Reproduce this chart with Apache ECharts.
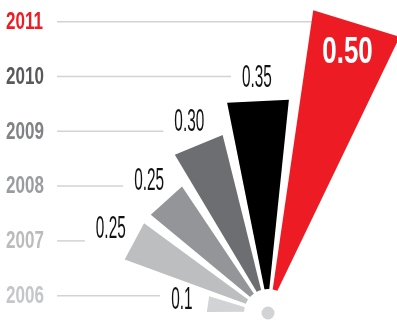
<!DOCTYPE html>
<html><head><meta charset="utf-8">
<script src="https://cdn.jsdelivr.net/npm/echarts@6/dist/echarts.min.js"></script>
<style>html,body{margin:0;padding:0;background:#fff}#c{width:397px;height:320px}</style>
</head><body><div id="c"></div>
<script>
// ---- data ----
const years = ['2006', '2007', '2008', '2009', '2010', '2011'];
const values = [0.1, 0.25, 0.25, 0.30, 0.35, 0.50];
const valueLabels = ['0.1', '0.25', '0.25', '0.30', '0.35', '0.50'];
const highlightYear = '2011';

// ---- styles ----
const wedgeColors = ['#d1d3d4', '#bcbec0', '#939598', '#6d6e71', '#000000', '#ed1c24'];
const yearColors = ['#c4c6c8', '#b9bbbd', '#9a9c9f', '#808285', '#58595b', '#ed1c24'];
const FONT_FAMILY = '"Liberation Sans", Arial, sans-serif';
const VAL_FONT = 'normal 32px ' + FONT_FAMILY;
const IN_FONT = 'bold 37px ' + FONT_FAMILY;
const YEAR_FONT = 'bold 23px ' + FONT_FAMILY;
const VAL_SCALE = 0.48, IN_SCALE = 0.70, YEAR_SCALE = 0.74;

const A0 = -81.5, STEP = 19.7;        // angular layout of the fan
const R_MAX = 0.5, R_PX = 306;         // radius axis max and its pixel radius
const PX = R_PX / R_MAX;
function centerAngle(i) { return A0 + STEP * i; }
function halfAngle(i) { return 7.5 + 0.2 * i; }

const measureCtx = document.createElement('canvas').getContext('2d');
function textWidth(t, font) { measureCtx.font = font; return measureCtx.measureText(t).width; }

function labelInfo(i) {
  const th = centerAngle(i);
  const inside = years[i] === highlightYear;
  const rPx = inside ? values[i] * PX - 34 : values[i] * PX + 21 + 5 * Math.abs(Math.sin(th * Math.PI / 180));
  return { r: rPx / PX, angle: th, inside: inside };
}

const chart = echarts.init(document.getElementById('c'), null, { renderer: 'canvas' });

const option = {
  animation: false,
  backgroundColor: '#ffffff',
  grid: { left: 57, right: 0, top: 21.7, bottom: 24.3 },
  xAxis: { type: 'value', min: 0, max: 1, show: false },
  yAxis: { type: 'category', data: years, boundaryGap: false, show: false },
  polar: { center: [268, 313], radius: R_PX },
  radiusAxis: { type: 'value', min: 0, max: R_MAX, show: false },
  angleAxis: { type: 'value', min: -180, max: 180, startAngle: 270, clockwise: true, show: false },
  series: [
    {
      type: 'custom',
      coordinateSystem: 'cartesian2d',
      data: years.map((y, i) => [0, i]),
      renderItem: function (params, api) {
        const i = params.dataIndex;
        const p = api.coord([0, i]);
        const li = labelInfo(i);
        const lp = chart.convertToPixel({ polarIndex: 0 }, [li.r, li.angle]);
        let xEnd;
        if (li.inside) xEnd = lp[0];
        else xEnd = lp[0] - textWidth(valueLabels[i], VAL_FONT) * VAL_SCALE / 2 - 11;
        return {
          type: 'group',
          children: [
            { type: 'line', shape: { x1: p[0], y1: p[1], x2: xEnd, y2: p[1] },
              style: { stroke: '#d2d3d5', lineWidth: 1.5 } },
            { type: 'text', x: p[0] - 51, y: p[1] + 1, scaleX: YEAR_SCALE,
              style: { text: years[i], x: 0, y: 0, align: 'left', verticalAlign: 'middle',
                       fill: yearColors[i], font: YEAR_FONT } }
          ]
        };
      }
    },
    {
      type: 'custom',
      coordinateSystem: 'polar',
      data: values.map((v, i) => [v, i]),
      renderItem: function (params, api) {
        const i = params.dataIndex;
        const v = api.value(0);
        const th = centerAngle(i), h = halfAngle(i);
        const rin = 22 / PX, hin = 5.5;
        const pts = [api.coord([rin, th - hin]), api.coord([v, th - h]), api.coord([v, th + h]), api.coord([rin, th + hin])];
        const li = labelInfo(i);
        const lp = api.coord([li.r, li.angle]);
        const labelStyle = li.inside
          ? { text: valueLabels[i], x: 0, y: 0, align: 'center', verticalAlign: 'middle', fill: '#ffffff', font: IN_FONT }
          : { text: valueLabels[i], x: 0, y: 0, align: 'center', verticalAlign: 'middle', fill: '#111111', font: VAL_FONT,
              shadowColor: '#111111', shadowBlur: 0, shadowOffsetX: 0.9, shadowOffsetY: 0 };
        return {
          type: 'group',
          children: [
            { type: 'polygon', shape: { points: pts }, style: { fill: wedgeColors[i] } },
            { type: 'text', x: lp[0], y: lp[1], z2: 10, scaleX: li.inside ? IN_SCALE : VAL_SCALE, style: labelStyle }
          ]
        };
      }
    },
    {
      type: 'custom',
      coordinateSystem: 'polar',
      data: [[0, 0]],
      renderItem: function (params, api) {
        const c = api.coord([0, 0]);
        return {
          type: 'group',
          children: [
            { type: 'circle', shape: { cx: c[0], cy: c[1], r: 24 }, style: { fill: '#ffffff' } },
            { type: 'circle', shape: { cx: c[0], cy: c[1], r: 6.5 }, style: { fill: '#d1d3d4' } }
          ]
        };
      }
    }
  ]
};
chart.setOption(option);
</script>
</body></html>
